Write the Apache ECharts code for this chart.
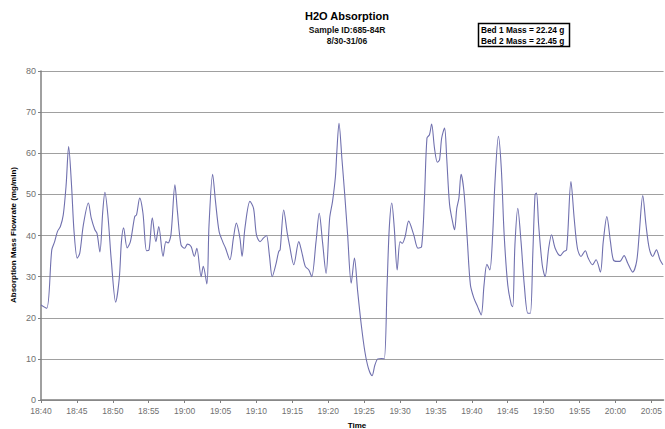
<!DOCTYPE html>
<html>
<head>
<meta charset="utf-8">
<script src="https://cdn.jsdelivr.net/npm/echarts@6/dist/echarts.min.js"></script>
<style>
html,body{margin:0;padding:0;background:#fff;}
#chart{width:665px;height:429px;}
</style>
</head>
<body>
<div id="chart"></div>
<script>
// Minutes after 18:40 for each reading
var minutes = [
0.0,0.8,1.5,1.9,2.3,2.7,3.1,3.5,3.85,4.25,4.6,5.05,5.4,5.9,6.6,7.0,7.5,7.8,8.2,8.6,8.9,9.35,9.8,10.4,10.9,11.2,11.5,12.0,12.45,13.05,13.3,13.75,14.2,14.7,15.05,15.5,16.0,16.4,17.0,17.4,17.7,18.1,18.65,
19.0,19.5,20.0,20.4,20.9,21.35,21.7,22.3,22.6,23.1,23.4,23.9,24.3,24.8,25.3,25.7,26.3,26.8,27.2,27.7,28.0,28.4,29.1,29.6,30.0,30.5,31.0,31.4,31.8,32.2,32.7,33.1,33.3,33.8,34.3,34.6,
35.2,35.9,36.3,36.8,37.3,37.7,38.3,38.75,39.2,39.7,40.2,40.6,41.0,41.2,41.5,41.9,42.3,42.7,43.2,43.65,44.1,44.6,45.1,45.6,46.1,46.5,46.9,47.4,47.8,48.2,48.5,48.85,49.2,49.6,50.0,50.3,50.7,51.2,51.9,52.5,53.0,
53.4,53.75,54.1,54.4,54.8,55.2,55.5,55.8,56.2,56.5,56.9,57.4,57.6,57.9,58.2,58.5,58.9,59.35,59.8,60.3,60.8,61.3,61.7,62.1,62.5,62.9,63.2,63.7,64.1,64.5,65.0,65.5,65.7,66.0,66.4,66.85,67.3,67.8,68.15,68.5,68.8,
69.0,69.3,69.8,70.2,70.7,71.1,71.6,72.3,72.8,73.2,73.8,74.25,74.7,75.2,75.8,76.2,76.8,77.3,77.9,78.3,78.8,79.3,79.7,80.2,80.6,81.2,81.7,82.4,82.95,83.3,83.8,84.25,84.7,85.2,85.7,86.2,86.6
];
// Absorption mass flowrate (mg/min)
var flowrate = [
23.1,22.3,36.5,38.5,41,42.2,45,52.3,61.6,52.3,41,34.5,35.7,42.6,47.9,44.2,41.4,40.5,36,45.8,50.5,44.2,33.7,23.8,29.6,38.5,41.9,37,38.5,44.6,45,49.1,45.4,36.3,36.5,44.3,38.5,42.2,34.9,38.5,38.2,40.2,52.3,
45.8,37.7,36.9,37.9,37.3,34.9,36.9,30,32.5,28.2,42.6,54.9,48.3,41,38.5,36.9,34.1,39.4,43,39.4,34.9,41.8,48.3,46.6,40.2,38.5,39.4,40,35.3,30,32.9,36.1,36.5,46.2,40.5,37.7,
32.9,38.5,36.1,32.5,31.6,30,38.5,45.4,38.5,30.8,44.2,48.3,54.3,60.4,67.3,58.8,49.9,40.2,28.4,34.5,26.4,18.3,11.8,7.7,5.9,8.5,10,10.1,10,28,41.8,47.9,41.8,31.6,38.5,38.1,39.7,43.5,40.2,36.9,37.3,
49.1,63.7,64.5,67.1,61.2,57.8,58.4,63.7,66.1,58.8,47.5,42.6,41.4,46.6,49.1,54.9,50.7,39.4,28,24.7,22.7,20.7,28,33,31.6,40.2,52.3,64.1,56.4,40.2,28,23.1,22.7,37.7,46.6,38.5,28,21.1,21.1,36.1,49.9,
50.3,42.6,32.9,30,36.9,40.2,36.9,35.1,36.1,36.5,53.1,44.2,36.9,34.9,36.3,34.5,32.9,34.1,31.1,38.5,44.6,38.5,34.1,33.7,33.7,35.1,33.3,31.1,33.7,40.2,49.7,42.6,36.9,34.9,36.5,34.1,32.9
];
var tickLabels = ['18:40','18:45','18:50','18:55','19:00','19:05','19:10','19:15','19:20','19:25','19:30','19:35','19:40','19:45','19:50','19:55','20:00','20:05'];
var yTicks = [0,10,20,30,40,50,60,70,80];
var titleLines = ['H2O Absorption','Sample ID:685-84R','8/30-31/06'];
var boxLines = ['Bed 1 Mass = 22.24 g','Bed 2 Mass = 22.45 g'];

var seriesData = minutes.map(function(m,i){ return [m, flowrate[i]]; });

var chart = echarts.init(document.getElementById('chart'), null, {renderer:'svg'});
var labelColor = '#707070';
chart.setOption({
  animation:false,
  backgroundColor:'#ffffff',
  grid:{left:41, right:0, top:71, bottom:29, containLabel:false},
  xAxis:{
    type:'value', min:0, max:86.7, interval:5,
    axisLine:{show:true, lineStyle:{color:'#808080', width:1.5}},
    axisTick:{show:true, length:3, lineStyle:{color:'#808080'}},
    splitLine:{show:false},
    axisLabel:{
      color:labelColor, fontSize:8.5, fontFamily:'Liberation Sans, Arial, sans-serif', margin:6,
      showMaxLabel:false,
      formatter:function(v){
        var k = Math.round(v/5);
        if (Math.abs(v/5 - k) > 1e-6) return '';
        return tickLabels[k] || '';
      }
    }
  },
  yAxis:{
    type:'value', min:yTicks[0], max:yTicks[yTicks.length-1], interval:10,
    axisLine:{show:true, lineStyle:{color:'#808080', width:1.5}},
    axisTick:{show:true, length:3, lineStyle:{color:'#808080'}},
    splitLine:{show:true, lineStyle:{color:'#a0a0a0', width:1.2}},
    axisLabel:{color:labelColor, fontSize:9, fontFamily:'Liberation Sans, Arial, sans-serif', margin:5}
  },
  series:[{
    type:'line', data:seriesData, smooth:0.3, showSymbol:false,
    lineStyle:{color:'#7070ae', width:1.1},
    clip:true
  }],
  graphic:[
    {type:'text', x:347, y:16, style:{text:titleLines[0], textAlign:'center', textVerticalAlign:'middle', font:'bold 11px "Liberation Sans", Arial, sans-serif', fill:'#000'}},
    {type:'text', x:347, y:30, style:{text:titleLines[1], textAlign:'center', textVerticalAlign:'middle', font:'bold 8.5px "Liberation Sans", Arial, sans-serif', fill:'#111'}},
    {type:'text', x:347, y:41, style:{text:titleLines[2], textAlign:'center', textVerticalAlign:'middle', font:'bold 8.5px "Liberation Sans", Arial, sans-serif', fill:'#111'}},
    {type:'rect', shape:{x:478.5, y:23.5, width:91, height:23}, style:{fill:'#fff', stroke:'#000', lineWidth:1.5}},
    {type:'text', x:481, y:29.5, style:{text:boxLines[0], textAlign:'left', textVerticalAlign:'middle', font:'bold 8.3px "Liberation Sans", Arial, sans-serif', fill:'#000'}},
    {type:'text', x:481, y:40.5, style:{text:boxLines[1], textAlign:'left', textVerticalAlign:'middle', font:'bold 8.3px "Liberation Sans", Arial, sans-serif', fill:'#000'}},
    {type:'text', x:13, y:235, rotation:Math.PI/2, style:{text:'Absorption Mass Flowrate (mg/min)', textAlign:'center', textVerticalAlign:'middle', font:'bold 8px "Liberation Sans", Arial, sans-serif', fill:'#000'}},
    {type:'text', x:357, y:425, style:{text:'Time', textAlign:'center', textVerticalAlign:'middle', font:'bold 8px "Liberation Sans", Arial, sans-serif', fill:'#000'}}
  ]
});
</script>
</body>
</html>
